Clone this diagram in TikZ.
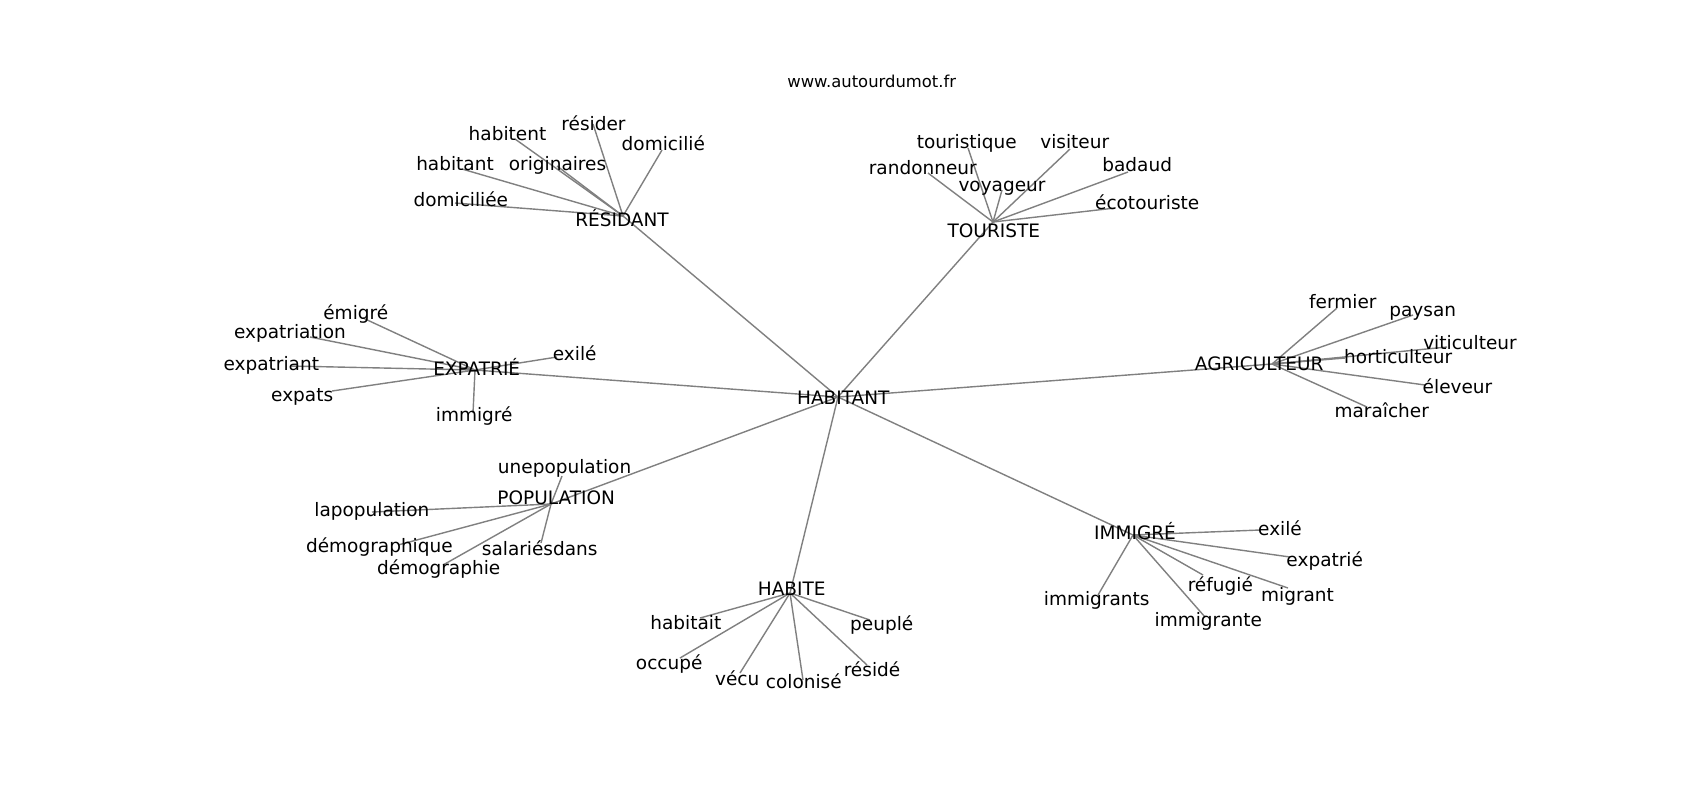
\documentclass[tikz,border=0pt]{standalone}
\usepackage{fontspec}
\setmainfont{DejaVu Sans}
\pgfdeclarelayer{bg}
\pgfsetlayers{bg,main}
\tikzset{
  lbl/.style={font=\fontsize{9.25}{11}\selectfont, inner sep=0pt, anchor=base, text=black},
  ttl/.style={font=\fontsize{8.2}{10}\selectfont, inner sep=0pt, anchor=base, text=black},
  edge/.style={draw=black!50, line width=0.7pt}
}
\newcommand{\wrd}[4]{\coordinate (#1) at (#2); \node[lbl] (#1-t) at (#3) {#4};}
\begin{document}
\begin{tikzpicture}[x=0.5pt,y=-0.5pt]
\path[use as bounding box] (0,0) rectangle (1700,800);
\node[ttl] (title) at (871.7,87.3) {www.autourdumot.fr};
% center
\wrd{hab}{838,397}{843.3,404}{HABITANT}
% hubs
\wrd{res}{623,216}{622,226}{RÉSIDANT}
\wrd{tou}{993,222}{993.8,237.3}{TOURISTE}
\wrd{exp}{475,370}{476.7,375}{EXPATRIÉ}
\wrd{agr}{1272,364}{1259.2,370.7}{AGRICULTEUR}
\wrd{pop}{551,504}{556.2,504}{POPULATION}
\wrd{hbt}{790,593}{791.7,595}{HABITE}
\wrd{imm}{1133,535}{1135,539.3}{IMMIGRÉ}
% RESIDANT leaves
\wrd{r1}{515,139}{507.5,140}{habitent}
\wrd{r2}{593,124}{593.5,130}{résider}
\wrd{r3}{662,150}{663.3,150}{domicilié}
\wrd{r4}{462,169}{455,170}{habitant}
\wrd{r5}{557,166}{557.5,170}{originaires}
\wrd{r6}{455,203}{460.8,206}{domiciliée}
% TOURISTE leaves
\wrd{t1}{968,148}{966.7,148.3}{touristique}
\wrd{t2}{1070,149}{1074.7,148.3}{visiteur}
\wrd{t3}{928,173}{922.8,174}{randonneur}
\wrd{t4}{1128,172}{1137.2,171.7}{badaud}
\wrd{t5}{1002,190}{1002,191.7}{voyageur}
\wrd{t6}{1115,208}{1147.2,209.3}{écotouriste}
% EXPATRIE leaves
\wrd{e1}{363,318}{355.8,319.3}{émigré}
\wrd{e2}{310,337}{290,338.3}{expatriation}
\wrd{e3}{557,357}{574.7,360}{exilé}
\wrd{e4}{290,366}{271.3,370}{expatriant}
\wrd{e5}{332,391}{302.2,401.7}{expats}
\wrd{e6}{473,413}{474.2,421.7}{immigré}
% AGRICULTEUR leaves
\wrd{a1}{1337,308}{1342.8,308.3}{fermier}
\wrd{a2}{1413,315}{1422.7,316.7}{paysan}
\wrd{a3}{1447,347}{1470,349.3}{viticulteur}
\wrd{a4}{1345,358}{1398.2,363.3}{horticulteur}
\wrd{a5}{1425,385}{1457.5,393.3}{éleveur}
\wrd{a6}{1367,407}{1381.7,417.3}{maraîcher}
% POPULATION leaves
\wrd{p1}{562,476}{564.6,473.3}{unepopulation}
\wrd{p2}{372,512}{371.9,516.7}{lapopulation}
\wrd{p3}{398,545}{379.4,552.7}{démographique}
\wrd{p4}{443,565}{438.7,574}{démographie}
\wrd{p5}{541,543}{539.7,555}{salariésdans}
% HABITE leaves
\wrd{h1}{700,618}{685.8,629.3}{habitait}
\wrd{h2}{870,620}{881.7,630}{peuplé}
\wrd{h3}{680,658}{669.2,669.3}{occupé}
\wrd{h4}{740,673}{737.2,685}{vécu}
\wrd{h5}{803,680}{803.8,688.3}{colonisé}
\wrd{h6}{867,665}{872,676}{résidé}
% IMMIGRE leaves
\wrd{i1}{1260,530}{1280,535}{exilé}
\wrd{i2}{1290,557}{1324.7,566.7}{expatrié}
\wrd{i3}{1203,575}{1220.3,591.7}{réfugié}
\wrd{i4}{1288,588}{1297.5,601.7}{migrant}
\wrd{i5}{1098,595}{1096.7,605}{immigrants}
\wrd{i6}{1205,617}{1208.3,626.7}{immigrante}
\begin{pgfonlayer}{bg}
\fill[white] (0,0) rectangle (1700,800);
\foreach \h in {res,tou,exp,agr,pop,hbt,imm} \draw[edge] (hab) -- (\h);
\foreach \l in {r1,r2,r3,r4,r5,r6} \draw[edge] (res) -- (\l);
\foreach \l in {t1,t2,t3,t4,t5,t6} \draw[edge] (tou) -- (\l);
\foreach \l in {e1,e2,e3,e4,e5,e6} \draw[edge] (exp) -- (\l);
\foreach \l in {a1,a2,a3,a4,a5,a6} \draw[edge] (agr) -- (\l);
\foreach \l in {p1,p2,p3,p4,p5} \draw[edge] (pop) -- (\l);
\foreach \l in {h1,h2,h3,h4,h5,h6} \draw[edge] (hbt) -- (\l);
\foreach \l in {i1,i2,i3,i4,i5,i6} \draw[edge] (imm) -- (\l);
\end{pgfonlayer}
\end{tikzpicture}
\end{document}
